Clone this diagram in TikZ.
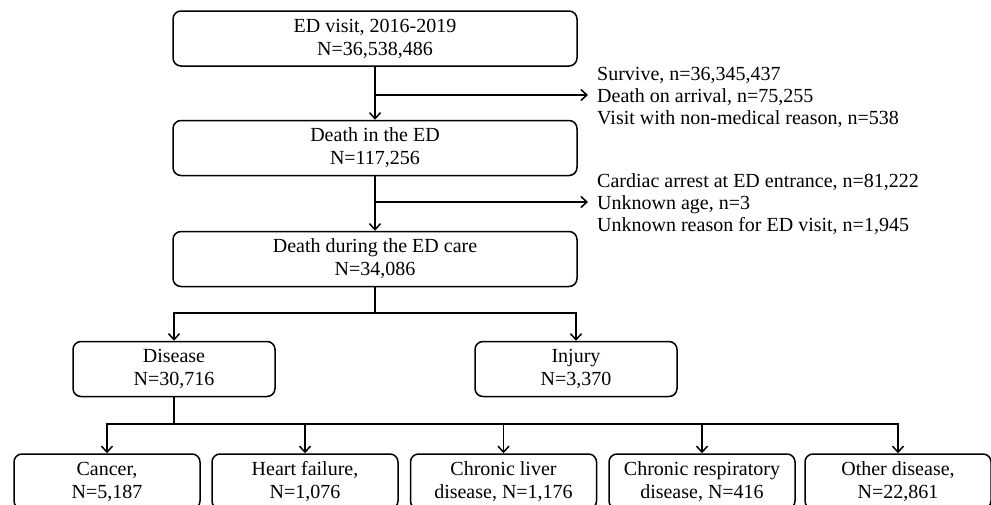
\documentclass[tikz,border=0pt]{standalone}
\usepackage{fontspec}
\setmainfont{Liberation Serif}
\usetikzlibrary{arrows.meta}
\begin{document}
\begin{tikzpicture}[x=1pt,y=-1pt,
  box/.style={draw, rounded corners=8pt, line width=1.5pt, align=center, inner sep=0pt,
    minimum height=55pt, font=\fontsize{20}{23}\selectfont},
  wide/.style={box, minimum width=404pt},
  mid/.style={box, minimum width=202pt},
  small/.style={box, minimum width=186pt},
  side/.style={anchor=west, align=left, inner sep=0pt, font=\fontsize{20}{22}\selectfont},
  arr/.style={line width=1.5pt, -{Straight Barb[length=6pt,width=11pt,line width=1.5pt]}},
  ln/.style={line width=1.5pt}]
\useasboundingbox (0,0) rectangle (991,504);

\node[wide] (visit) at (375,38.5) {ED visit, 2016-2019\\N=36,538,486};
\node[wide] (dead) at (375,148) {Death in the ED\\N=117,256};
\node[wide] (care) at (375,259) {Death during the ED care\\N=34,086};
\node[mid] (dis) at (174,369) {Disease\\N=30,716};
\node[mid] (inj) at (576,369) {Injury\\N=3,370};

\node[small] (can) at (107,481.5) {Cancer,\\N=5,187};
\node[small] (hf) at (305,481.5) {Heart failure,\\N=1,076};
\node[small] (cld) at (503.5,481.5) {Chronic liver\\disease, N=1,176};
\node[small] (crd) at (702,481.5) {Chronic respiratory\\disease, N=416};
\node[small] (oth) at (898,481.5) {Other disease,\\N=22,861};

\coordinate (e1) at (588,95);
\coordinate (e2) at (588,202);
\node[side] (ex1) at (597,97) {Survive, n=36,345,437\\Death on arrival, n=75,255\\Visit with non-medical reason, n=538};
\node[side] (ex2) at (597,204) {Cardiac arrest at ED entrance, n=81,222\\Unknown age, n=3\\Unknown reason for ED visit, n=1,945};

\draw[arr] (visit.south) -- (dead.north);
\draw[arr] (visit.south |- e1) -- (e1);
\draw[arr] (dead.south) -- (care.north);
\draw[arr] (dead.south |- e2) -- (e2);

\coordinate (j1) at (375,313);
\draw[ln] (care.south) -- (j1);
\draw[arr] (j1) -| (dis.north);
\draw[arr] (j1) -| (inj.north);

\coordinate (j2) at (174,424);
\draw[ln] (dis.south) -- (j2);
\draw[arr] (j2) -| (can.north);
\draw[arr] (j2) -| (hf.north);
\draw[arr] (j2) -| (cld.north);
\draw[arr] (j2) -| (crd.north);
\draw[arr] (j2) -| (oth.north);
\end{tikzpicture}
\end{document}
